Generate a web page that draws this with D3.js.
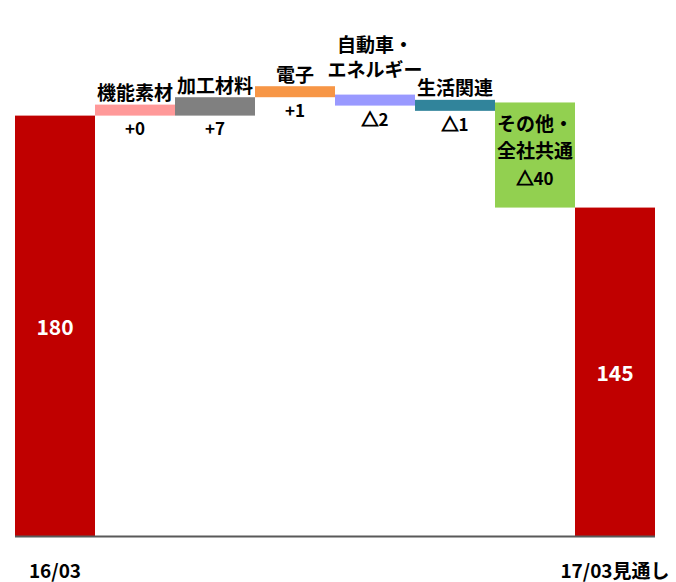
<!DOCTYPE html>
<html>
<head>
<meta charset="utf-8">
<script src="https://cdn.jsdelivr.net/npm/d3@7"></script>
<style>
  body { margin: 0; background: #fff; }
  text { font-family: "Noto Sans CJK JP", "Noto Sans", sans-serif; font-weight: 700; }
</style>
</head>
<body>
<svg id="chart" width="676" height="582"></svg>
<script>
// Operating income bridge, 16/03 actual to 17/03 outlook
const categories = ["16/03", "機能素材", "加工材料", "電子", "自動車・\nエネルギー", "生活関連", "その他・\n全社共通", "17/03見通し"];
const barKinds = ["total", "step", "step", "step", "step", "step", "step", "total"];
const values = [180, 0, 7, 1, -2, -1, -40, 145];
const valueLabels = ["180", "+0", "+7", "+1", "△2", "△1", "△40", "145"];

const palette = ["#C00000", "#FF9999", "#808080", "#F79646", "#9999FF", "#31849B", "#92D050", "#C00000"];

const width = 676, height = 582;
const plot = { left: 15, right: 655, top: 0, bottom: 536 };
const minStep = 11; // keep very small steps visible

const svg = d3.select("#chart");

const x = d3.scaleBand()
  .domain(d3.range(categories.length))
  .range([plot.left, plot.right])
  .padding(0);

const y = d3.scaleLinear()
  .domain([20, 224])
  .range([plot.bottom, plot.top]);

// running totals for the waterfall
let level = 0;
const rows = values.map((v, i) => {
  let start, end;
  if (barKinds[i] === "total") { start = y.domain()[0]; end = v; level = v; }
  else { start = level; end = level + v; level = end; }
  const y0 = y(start), y1 = y(end);
  let top = Math.min(y0, y1), h = Math.abs(y1 - y0);
  if (barKinds[i] === "step" && h < minStep) {
    top = v >= 0 ? y0 - minStep : y0;
    h = minStep;
  }
  return { i, v, kind: barKinds[i], top, h, name: categories[i], label: valueLabels[i], color: palette[i] };
});

svg.append("g").selectAll("rect")
  .data(rows)
  .join("rect")
  .attr("x", d => x(d.i))
  .attr("y", d => d.top)
  .attr("width", x.bandwidth())
  .attr("height", d => d.h)
  .attr("fill", d => d.color);

// baseline
svg.append("line")
  .attr("x1", plot.left).attr("x2", plot.right)
  .attr("y1", plot.bottom + 0.5).attr("y2", plot.bottom + 0.5)
  .attr("stroke", "#595959").attr("stroke-width", 2);

const labels = svg.append("g");

// value text; the triangle (minus sign) gets a heavier outline
function valueText(sel, s) {
  const m = s.match(/^(△)(.*)$/);
  if (m) {
    sel.append("tspan").attr("stroke", "#000").attr("stroke-width", 1.1).text(m[1]);
    sel.append("tspan").text(m[2]);
  } else {
    sel.text(s);
  }
}

rows.forEach(d => {
  const cx = x(d.i) + x.bandwidth() / 2;
  if (d.kind === "total") {
    labels.append("text")
      .attr("x", cx).attr("y", d.top + d.h / 2)
      .attr("text-anchor", "middle").attr("dominant-baseline", "central")
      .attr("fill", "#fff").attr("font-size", 21)
      .text(d.label);
    labels.append("text")
      .attr("x", cx).attr("y", plot.bottom + 33)
      .attr("text-anchor", "middle").attr("dominant-baseline", "central")
      .attr("fill", "#000").attr("font-size", 19)
      .text(d.name);
    return;
  }
  const lines = d.name.split("\n");
  if (d.h >= 60) {
    // tall bar: name and value inside, set from the bar's foot
    const texts = lines.concat([d.label]);
    texts.forEach((t, k) => {
      const tx = labels.append("text")
        .attr("x", cx).attr("y", d.top + d.h - 31 - (texts.length - 1 - k) * 27)
        .attr("text-anchor", "middle").attr("dominant-baseline", "central")
        .attr("font-size", k === texts.length - 1 ? 17 : 19);
      if (k === texts.length - 1) valueText(tx, t); else tx.text(t);
    });
    return;
  }
  // names above the bar; wide two-line names sit higher to clear their neighbours
  const lift = lines.length > 1 ? 26 : 13;
  lines.forEach((t, k) => {
    labels.append("text")
      .attr("x", cx).attr("y", d.top - lift - (lines.length - 1 - k) * 25)
      .attr("text-anchor", "middle").attr("dominant-baseline", "central")
      .attr("font-size", 19)
      .text(t);
  });
  const inside = d.h >= 24;
  const vt = labels.append("text")
    .attr("x", cx).attr("y", inside ? d.top + d.h / 2 : d.top + d.h + 12)
    .attr("text-anchor", "middle").attr("dominant-baseline", "central")
    .attr("font-size", 17);
  valueText(vt, d.label);
});
</script>
</body>
</html>
